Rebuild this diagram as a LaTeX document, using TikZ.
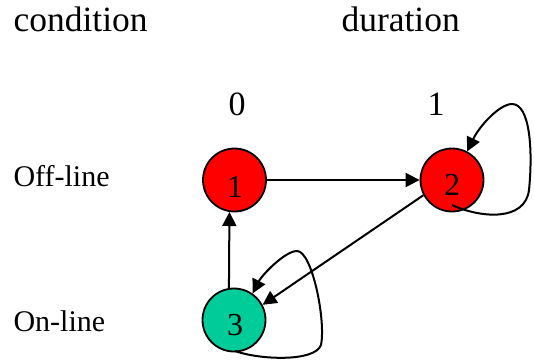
\documentclass[tikz,border=0pt]{standalone}
\usepackage{fontspec}
\setmainfont{Liberation Serif}
\usetikzlibrary{arrows.meta,calc}
\definecolor{statered}{RGB}{255,0,0}
\definecolor{stategreen}{RGB}{0,204,153}
\tikzset{
  state/.style={circle,draw=black,line width=1.8pt,minimum size=63pt,inner sep=0pt},
  statenum/.style={anchor=base,font=\fontsize{32}{32}\selectfont},
  heading/.style={anchor=base west,font=\fontsize{35.5}{36}\selectfont},
  sidelabel/.style={anchor=base west,font=\fontsize{30}{30}\selectfont},
  colnum/.style={anchor=base,font=\fontsize{34}{34}\selectfont},
  link/.style={line width=2pt,-{Triangle[length=14pt,width=14pt]}}
}
\begin{document}
\begin{tikzpicture}[x=1pt,y=-1pt]
\useasboundingbox (0,0) rectangle (534,362);

% headings and row/column labels
\node[heading] (hcond) at (10,31) {condition};
\node[heading] (hdur) at (338,31) {duration};
\node[colnum] (c0) at (237,115) {0};
\node[colnum] (c1) at (436,115) {1};
\node[sidelabel] (roff) at (10,186) {Off-line};
\node[sidelabel] (ron) at (10,331) {On-line};

% states
\node[state,fill=statered] (n1) at (234.5,180) {};
\node[state,fill=statered] (n2) at (452,180) {};
\node[state,fill=stategreen] (n3) at (234,320) {};
\node[statenum] (t1) at (235,197) {1};
\node[statenum] (t2) at (452,195) {2};
\node[statenum] (t3) at (235,335) {3};

% transitions
\draw[link] (n1) -- (n2);
\draw[link] (n2.208) -- (n3.28);
\draw[link] (n3.99) -- (n1.261);

% self loops
\coordinate (l2s) at ($(n2)+(0,25)$);
\coordinate (l3s) at ($(n3)+(1,31)$);
\draw[link] (l2s) .. controls (480,218) and (525,222) .. (529,190)
  .. controls (533,150) and (530,104) .. (512,104)
  .. controls (500,104) and (480,125) .. (n2.62);
\draw[link] (l3s) .. controls (260,360) and (315,362) .. (321,345)
  .. controls (326,320) and (312,251) .. (297,251)
  .. controls (285,251) and (262,275) .. (n3.55);
\end{tikzpicture}
\end{document}
